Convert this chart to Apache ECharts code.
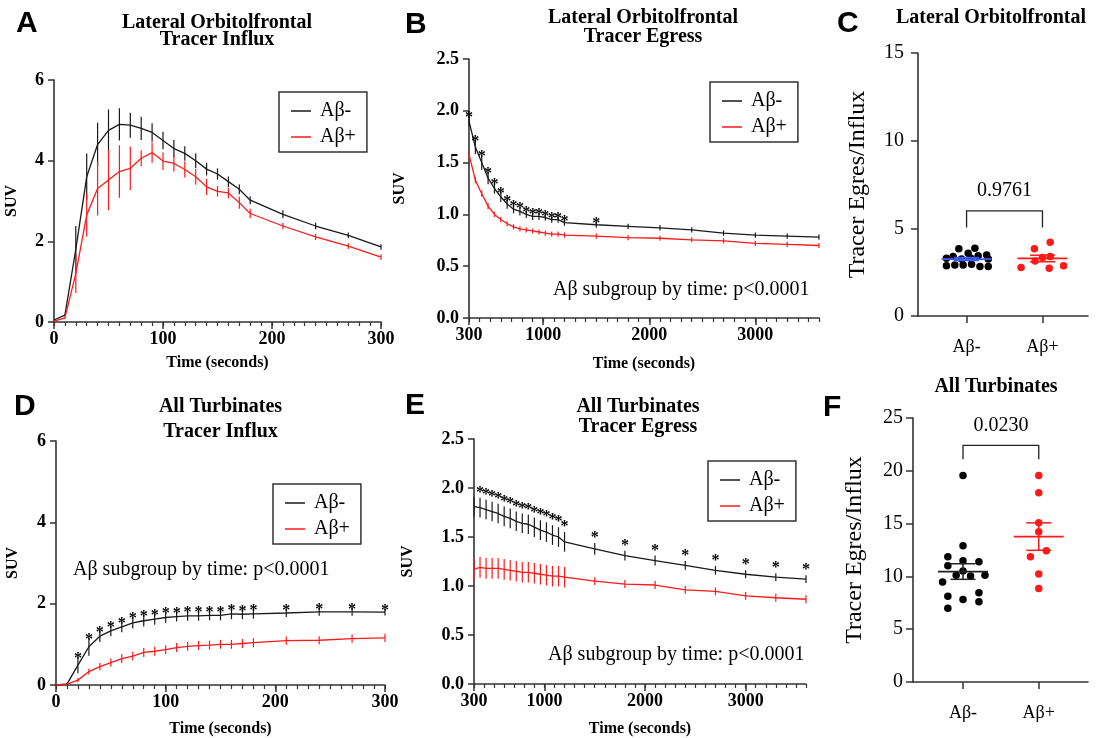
<!DOCTYPE html>
<html><head><meta charset="utf-8">
<script src="https://cdn.jsdelivr.net/npm/echarts@6/dist/echarts.min.js"></script>
<style>html,body{margin:0;padding:0;background:#fff}#c{width:1099px;height:738px}</style>
</head><body><div id="c"></div>
<script>
// ================= DATA =================
const groups = ['Aβ-', 'Aβ+'];
const influxTime = [0,10,20,30,40,50,60,70,80,90,100,110,120,130,140,150,160,170,180,210,240,270,300];
const egressTime = [300,360,420,480,540,600,660,720,780,840,900,960,1020,1080,1140,1200,1500,1800,2100,2400,2700,3000,3300,3600];
const influxTicks = [0,100,200,300];
const egressTicks = [300,1000,2000,3000];

// A: Lateral Orbitolfrontal influx
const lofInfluxNeg    = [0.05,0.17,1.8,3.6,4.4,4.75,4.9,4.88,4.8,4.7,4.5,4.3,4.18,4.0,3.79,3.67,3.48,3.29,3.02,2.67,2.38,2.15,1.86];
const lofInfluxNegSem = [0,0.02,0.58,0.58,0.54,0.52,0.4,0.31,0.29,0.23,0.22,0.21,0.18,0.18,0.16,0.14,0.13,0.12,0.1,0.1,0.08,0.07,0.07];
const lofInfluxPos    = [0.02,0.1,1.2,2.65,3.31,3.52,3.73,3.81,4.06,4.2,3.99,3.93,3.78,3.6,3.35,3.24,3.2,2.96,2.69,2.38,2.11,1.88,1.61];
const lofInfluxPosSem = [0,0.02,0.48,0.53,0.67,0.75,0.65,0.54,0.2,0.25,0.22,0.2,0.2,0.2,0.2,0.13,0.13,0.15,0.12,0.08,0.08,0.07,0.07];
const lofInfluxSig    = influxTime.map(() => 0);

// B: Lateral Orbitolfrontal egress
const lofEgressNeg    = [1.9,1.65,1.5,1.35,1.25,1.17,1.1,1.05,1.03,1.0,0.98,0.98,0.97,0.95,0.95,0.92,0.9,0.885,0.87,0.85,0.82,0.8,0.79,0.78];
const lofEgressNegSem = [0.05,0.07,0.07,0.06,0.05,0.05,0.045,0.04,0.04,0.035,0.035,0.035,0.03,0.03,0.03,0.03,0.03,0.025,0.025,0.025,0.025,0.025,0.025,0.025];
const lofEgressPos    = [1.58,1.33,1.2,1.08,1.0,0.95,0.91,0.88,0.86,0.85,0.84,0.83,0.82,0.81,0.81,0.8,0.79,0.775,0.77,0.755,0.745,0.72,0.71,0.7];
const lofEgressPosSem = [0.03,0.03,0.03,0.03,0.025,0.025,0.025,0.025,0.025,0.025,0.025,0.025,0.025,0.025,0.025,0.025,0.025,0.025,0.025,0.025,0.025,0.025,0.025,0.025];
const lofEgressSig    = [1,1,1,1,1,1,1,1,1,1,1,1,1,1,1,1,1,0,0,0,0,0,0,0];

// D: All Turbinates influx
const turbInfluxNeg    = [0,0.02,0.49,0.94,1.2,1.33,1.43,1.53,1.58,1.62,1.66,1.68,1.7,1.7,1.71,1.71,1.75,1.74,1.75,1.77,1.8,1.8,1.79];
const turbInfluxNegSem = [0,0.02,0.2,0.22,0.14,0.13,0.13,0.14,0.14,0.14,0.13,0.12,0.12,0.12,0.12,0.12,0.13,0.12,0.12,0.1,0.1,0.1,0.08];
const turbInfluxPos    = [0,0.02,0.12,0.33,0.45,0.55,0.65,0.71,0.8,0.83,0.87,0.92,0.95,0.97,0.98,1.0,1.0,1.02,1.04,1.09,1.1,1.14,1.16];
const turbInfluxPosSem = [0,0.01,0.05,0.07,0.09,0.1,0.11,0.11,0.11,0.11,0.11,0.11,0.11,0.11,0.11,0.11,0.11,0.11,0.11,0.1,0.1,0.1,0.1];
const turbInfluxSig    = [0,0,1,1,1,1,1,1,1,1,1,1,1,1,1,1,1,1,1,1,1,1,1];

// E: All Turbinates egress
const turbEgressNeg    = [1.81,1.8,1.78,1.76,1.74,1.71,1.69,1.66,1.64,1.63,1.6,1.57,1.55,1.52,1.5,1.45,1.38,1.31,1.26,1.21,1.16,1.12,1.09,1.07];
const turbEgressNegSem = [0.1,0.1,0.1,0.1,0.1,0.1,0.1,0.1,0.1,0.1,0.1,0.1,0.1,0.1,0.1,0.1,0.06,0.05,0.05,0.045,0.045,0.04,0.04,0.04];
const turbEgressPos    = [1.17,1.19,1.18,1.18,1.18,1.17,1.16,1.15,1.14,1.14,1.13,1.12,1.11,1.1,1.1,1.09,1.05,1.02,1.01,0.96,0.945,0.9,0.88,0.865];
const turbEgressPosSem = [0.105,0.105,0.105,0.105,0.105,0.105,0.105,0.105,0.105,0.105,0.105,0.105,0.105,0.105,0.105,0.105,0.04,0.04,0.04,0.04,0.04,0.04,0.04,0.04];
const turbEgressSig    = [0,1,1,1,1,1,1,1,1,1,1,1,1,1,1,1,1,1,1,1,1,1,1,1];

// C: Lateral Orbitolfrontal ratio (x = group position with jitter, y = ratio)
const lofRatioNeg = [[0.735,3.29],[0.735,2.86],[0.823,3.39],[0.845,2.91],[0.898,3.83],[0.934,3.25],[0.955,2.91],[1.021,3.58],
                     [1.057,3.29],[1.066,2.95],[1.11,3.87],[1.153,3.44],[1.176,2.82],[1.265,3.48],[1.286,3.25],[1.286,2.82]];
const lofRatioPos = [[1.718,2.76],[1.894,3.83],[1.903,3.14],[2.102,4.21],[2.102,3.39],[2.089,2.72],[2.278,2.87],[2.0,3.33]];
const lofPValue = '0.9761';
const lofBracket = [5.05, 6.0];

// F: All Turbinates ratio
const turbRatioNeg = [[1.0,19.55],[1.0,12.9],[0.80,11.86],[0.80,11.0],[1.0,11.48],[1.21,11.38],[1.0,10.5],[0.91,10.12],
                      [1.10,10.03],[1.29,10.12],[0.73,9.46],[0.80,8.13],[1.0,7.82],[1.21,8.45],[1.21,7.59],[0.80,6.99]];
const turbRatioPos = [[2.0,19.55],[2.0,17.93],[2.0,15.09],[2.0,14.23],[2.10,12.43],[1.89,11.86],[2.0,10.22],[2.0,8.86]];
const turbPValue = '0.0230';
const turbBracket = [21.1, 22.4];

const annotation = 'Aβ subgroup by time: p<0.0001';

// ================= STYLE / BUILD =================
const SERIF = '"Liberation Serif","Times New Roman",serif';
const SANS = '"Liberation Sans",Arial,sans-serif';
const BLACK = '#1a1a1a', RED = '#ff1a1a', AXIS = '#333', BLUE = '#3f5cf5';

const grids = [
  {left:54,  top:80,  width:327, height:242},  // A
  {left:469, top:59,  width:350, height:259},  // B
  {left:918, top:53,  width:170, height:263},  // C
  {left:56,  top:441, width:329, height:244},  // D
  {left:474, top:439, width:332, height:245},  // E
  {left:913, top:418, width:175, height:264}   // F
].map(g => Object.assign({outerBoundsMode:'none', containLabel:false}, g));

const axisLine = {onZero:false, lineStyle:{color:AXIS, width:1.6}};
const tickStyle = {color:AXIS, width:1.5};

function timeAxes(gi, min, max, ticks, minorInt, nameGap) {
  return [
    {gridIndex:gi, type:'value', min, max, position:'bottom',
     name:'Time (seconds)', nameLocation:'middle', nameGap,
     nameTextStyle:{fontFamily:SERIF, fontWeight:'bold', fontSize:16, color:'#000'},
     axisLine, axisTick:{length:7, lineStyle:tickStyle, customValues:ticks},
     axisLabel:{customValues:ticks, formatter: v => String(v),
       fontFamily:SERIF, fontWeight:'bold', fontSize:18, color:'#000', margin:8},
     splitLine:{show:false}},
    {gridIndex:gi, type:'value', min, max, interval:minorInt, position:'bottom',
     axisLine:{show:false, onZero:false}, axisTick:{length:4, lineStyle:{color:AXIS, width:1.2}},
     axisLabel:{show:false}, splitLine:{show:false}}
  ];
}
function suvAxis(gi, max, interval, nameGap, dec) {
  return {gridIndex:gi, type:'value', min:0, max, interval,
    name:'SUV', nameLocation:'middle', nameGap, nameRotate:90,
    nameTextStyle:{fontFamily:SERIF, fontWeight:'bold', fontSize:16, color:'#000'},
    axisLine, axisTick:{show:true, length:6, lineStyle:tickStyle},
    axisLabel:{fontFamily:SERIF, fontWeight:'bold', fontSize:18, color:'#000', margin:10,
      formatter: v => dec ? v.toFixed(dec) : String(v)},
    splitLine:{show:false}};
}
function groupAxis(gi, min, max) {
  return {gridIndex:gi, type:'value', min, max, position:'bottom',
    axisLine, axisTick:{length:7, lineStyle:tickStyle, customValues:[1,2]},
    axisLabel:{customValues:[1,2], formatter: v => groups[Math.round(v)-1],
      fontFamily:SERIF, fontSize:18, color:'#000', margin:22},
    splitLine:{show:false}};
}
function ratioAxis(gi, max, nameGap, margin) {
  return {gridIndex:gi, type:'value', min:0, max, interval:5,
    name:'Tracer Egres/Influx', nameLocation:'middle', nameGap, nameRotate:90,
    nameTextStyle:{fontFamily:SERIF, fontSize:24, color:'#000'},
    axisLine, axisTick:{show:true, length:7, lineStyle:tickStyle},
    axisLabel:{fontFamily:SERIF, fontSize:20, color:'#000', margin},
    splitLine:{show:false}};
}

const xAxis = [
  ...timeAxes(0, 0, 300, influxTicks, 10, 33),      // 0,1
  ...timeAxes(1, 300, 3600, egressTicks, 100, 38),  // 2,3
  groupAxis(2, 0.36, 2.6),                          // 4
  ...timeAxes(3, 0, 300, influxTicks, 10, 36),      // 5,6
  ...timeAxes(4, 300, 3600, egressTicks, 100, 37),  // 7,8
  groupAxis(5, 0.34, 2.65)                          // 9
];
const yAxis = [
  suvAxis(0, 6, 2, 34, 0),
  suvAxis(1, 2.5, 0.5, 61, 1),
  ratioAxis(2, 15, 48, 14),
  suvAxis(3, 6, 2, 35, 0),
  suvAxis(4, 2.5, 0.5, 58, 1),
  ratioAxis(5, 25, 46, 10)
];

function lineSeries(xi, yi, name, time, vals, color) {
  return {type:'line', name, xAxisIndex:xi, yAxisIndex:yi, color,
    data: time.map((t,i) => [t, vals[i]]), symbol:'none', showSymbol:false,
    lineStyle:{color, width:1.3}, z:3, animation:false, clip:false};
}
function errSeries(xi, yi, time, vals, sem, color) {
  return {type:'custom', name:'err', xAxisIndex:xi, yAxisIndex:yi, clip:false, silent:true, z:3,
    data: time.map((t,i) => [t, vals[i]-sem[i], vals[i]+sem[i]]),
    encode:{x:0, y:[1,2]},
    renderItem:(p, api) => {
      const a = api.coord([api.value(0), api.value(1)]);
      const b = api.coord([api.value(0), api.value(2)]);
      return {type:'line', shape:{x1:a[0], y1:a[1], x2:b[0], y2:b[1]}, style:{stroke:color, lineWidth:1.2}};
    }};
}
function starSeries(xi, yi, time, vals, sem, sig, dy) {
  const d = [];
  time.forEach((t,i) => { if (sig[i]) d.push([t, vals[i]+sem[i]]); });
  return {type:'custom', name:'sig', xAxisIndex:xi, yAxisIndex:yi, clip:false, silent:true, z:4,
    data:d, encode:{x:0, y:1},
    renderItem:(p, api) => {
      const c = api.coord([api.value(0), api.value(1)]);
      return {type:'text', x:c[0], y:c[1]+dy,
        style:{text:'*', font:'bold 16px ' + SERIF, textAlign:'center', textVerticalAlign:'middle', fill:'#000'}};
    }};
}
function panel(xi, yi, time, neg, negSem, pos, posSem, sig, dy) {
  return [
    lineSeries(xi, yi, groups[0], time, neg, BLACK),
    lineSeries(xi, yi, groups[1], time, pos, RED),
    errSeries(xi, yi, time, neg, negSem, BLACK),
    errSeries(xi, yi, time, pos, posSem, RED),
    starSeries(xi, yi, time, neg, negSem, sig, dy)
  ];
}
function meanSem(xi, yi, pts, cx, color, semColor) {
  const ys = pts.map(p => p[1]); const n = ys.length;
  const m = ys.reduce((a,b) => a+b, 0)/n;
  const sd = Math.sqrt(ys.reduce((a,b) => a+(b-m)*(b-m), 0)/(n-1));
  const se = sd/Math.sqrt(n);
  const seg = (a, b, col, w) => ({type:'line', shape:{x1:a[0], y1:a[1], x2:b[0], y2:b[1]}, style:{stroke:col, lineWidth:w}});
  return {type:'custom', name:'mean', xAxisIndex:xi, yAxisIndex:yi, clip:false, silent:true, z:5,
    data:[[cx, m, se]], encode:{x:0, y:1},
    renderItem:(p, api) => {
      const x = api.value(0), mm = api.value(1), s = api.value(2);
      return {type:'group', children:[
        seg(api.coord([x-0.33, mm]), api.coord([x+0.33, mm]), color, 1.8),
        seg(api.coord([x, mm-s]), api.coord([x, mm+s]), semColor, 1.5),
        seg(api.coord([x-0.165, mm+s]), api.coord([x+0.165, mm+s]), semColor, 1.5),
        seg(api.coord([x-0.165, mm-s]), api.coord([x+0.165, mm-s]), semColor, 1.5)
      ]};
    }};
}
function scatter(xi, yi, pts, color, name) {
  return {type:'scatter', name, xAxisIndex:xi, yAxisIndex:yi, data:pts, symbol:'circle', symbolSize:7.5,
    itemStyle:{color, opacity:1}, z:2, silent:true};
}
function bracket(xi, yi, range, pText) {
  return {type:'custom', name:'bracket', xAxisIndex:xi, yAxisIndex:yi, clip:false, silent:true, z:5,
    data:[[1, 2, range[0], range[1]]], encode:{x:[0,1], y:[2,3]},
    renderItem:(p, api) => {
      const x1 = api.value(0), x2 = api.value(1), lo = api.value(2), hi = api.value(3);
      const a = api.coord([x1, lo]), b = api.coord([x1, hi]), c = api.coord([x2, hi]), d = api.coord([x2, lo]);
      return {type:'group', children:[
        {type:'polyline', shape:{points:[a,b,c,d]}, style:{stroke:'#222', lineWidth:1.3, fill:null}},
        {type:'text', x:(b[0]+c[0])/2, y:b[1]-10,
          style:{text:pText, font:'20px ' + SERIF, textAlign:'center', textVerticalAlign:'bottom', fill:'#000'}}
      ]};
    }};
}

const series = [
  ...panel(0, 0, influxTime, lofInfluxNeg, lofInfluxNegSem, lofInfluxPos, lofInfluxPosSem, lofInfluxSig, 2),
  ...panel(2, 1, egressTime, lofEgressNeg, lofEgressNegSem, lofEgressPos, lofEgressPosSem, lofEgressSig, 2),
  ...panel(5, 3, influxTime, turbInfluxNeg, turbInfluxNegSem, turbInfluxPos, turbInfluxPosSem, turbInfluxSig, 2),
  ...panel(7, 4, egressTime, turbEgressNeg, turbEgressNegSem, turbEgressPos, turbEgressPosSem, turbEgressSig, -5),
  scatter(4, 2, lofRatioNeg, '#000', 'C neg'),
  scatter(4, 2, lofRatioPos, RED, 'C pos'),
  meanSem(4, 2, lofRatioNeg, 1, BLUE, BLUE),
  meanSem(4, 2, lofRatioPos, 2, RED, RED),
  bracket(4, 2, lofBracket, lofPValue),
  scatter(9, 5, turbRatioNeg, '#000', 'F neg'),
  scatter(9, 5, turbRatioPos, RED, 'F pos'),
  meanSem(9, 5, turbRatioNeg, 1, '#222', '#222'),
  meanSem(9, 5, turbRatioPos, 2, RED, RED),
  bracket(9, 5, turbBracket, turbPValue)
];

function legendAt(left, top) {
  return {left, top, orient:'vertical', data:groups.map(n => ({name:n, icon:'rect'})), selectedMode:false,
    itemWidth:20, itemHeight:1.5, itemGap:2, padding:[7,11,3,12],
    borderColor:AXIS, borderWidth:1.5, backgroundColor:'#fff',
    textStyle:{fontFamily:SERIF, fontSize:20, lineHeight:24, color:'#000', padding:[0,0,0,4]}};
}
const legend = [legendAt(279,92), legendAt(710,82), legendAt(273,484), legendAt(708,461)];

function txt(text, x, y, font, align) {
  return {type:'text', x, y, silent:true,
    style:{text, font, textAlign:align || 'center', textVerticalAlign:'middle', fill:'#000'}};
}
const TF = 'bold 20px ' + SERIF, LF = 'bold 30px ' + SANS, AF = '20px ' + SERIF;
const graphic = [
  txt('A', 16, 24, LF, 'left'), txt('B', 405, 25, LF, 'left'), txt('C', 837, 24, LF, 'left'),
  txt('D', 14, 407, LF, 'left'), txt('E', 405, 406, LF, 'left'), txt('F', 823, 408, LF, 'left'),
  txt('Lateral Orbitolfrontal', 217, 22.6, TF), txt('Tracer Influx', 217, 40.1, TF),
  txt('Lateral Orbitolfrontal', 643, 18.3, TF), txt('Tracer Egress', 643, 36.6, TF),
  txt('Lateral Orbitolfrontal', 991, 18.3, TF),
  txt('All Turbinates', 220.5, 406.6, TF), txt('Tracer Influx', 220.5, 431.6, TF),
  txt('All Turbinates', 638, 406.6, TF), txt('Tracer Egress', 638, 426.6, TF),
  txt('All Turbinates', 996, 386.6, TF),
  txt(annotation, 553, 290, AF, 'left'),
  txt(annotation, 73, 570, AF, 'left'),
  txt(annotation, 548, 655, AF, 'left')
];

const chart = echarts.init(document.getElementById('c'), null, {renderer:'canvas'});
chart.setOption({
  animation:false, backgroundColor:'#fff',
  grid:grids, xAxis, yAxis, series, legend, graphic,
  tooltip:{show:false}
});
</script></body></html>
